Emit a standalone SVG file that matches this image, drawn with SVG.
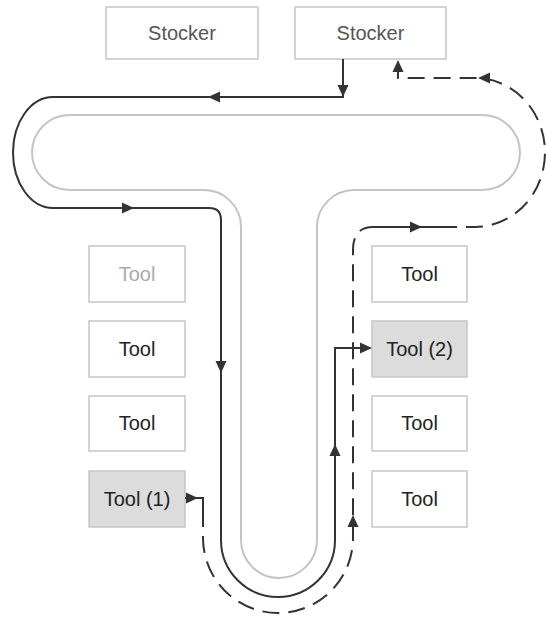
<svg xmlns="http://www.w3.org/2000/svg" xmlns:xlink="http://www.w3.org/1999/xlink" width="546" height="621" viewBox="0 0 546 621">
<style>
  .box { fill: #ffffff; stroke: #c6c6c6; stroke-width: 1.5; }
  .hl { fill: #dcdcdc; }
  .lbl { font-family: "Liberation Sans", Arial, sans-serif; font-size: 20px; text-anchor: middle; fill: #222; }
  .stk { fill: #555; }
  .faint { fill: #aaa; }
  .track { fill: none; stroke: #c4c4c4; stroke-width: 2; }
  .solid { fill: none; stroke: #333; stroke-width: 2; }
  .dash { fill: none; stroke: #333; stroke-width: 2; stroke-dasharray: 17 9; }
  .ah { fill: #333; }
</style>
<defs>
  <path id="ah" d="M0,0 L-12,-5.5 L-12,5.5 Z"/>
</defs>

<g id="track">
  <path class="track" d="M69.5,115 H482.5 A37.5,37.5 0 0 1 482.5,190 H354 A37,37 0 0 0 317,227 V540 A38,38 0 0 1 241,540 V227 A37,37 0 0 0 204,190 H69.5 A37.5,37.5 0 0 1 69.5,115 Z"/>
</g>

<g id="stocker1">
  <rect class="box" x="106" y="7" width="152" height="52"/>
  <text class="lbl stk" x="182" y="40">Stocker</text>
</g>
<g id="stocker2">
  <rect class="box" x="295" y="7" width="151" height="52"/>
  <text class="lbl stk" x="370.5" y="40">Stocker</text>
</g>

<g id="tool-l1">
  <rect class="box" x="89" y="246" width="96" height="56"/>
  <text class="lbl faint" x="137" y="281">Tool</text>
</g>
<g id="tool-l2">
  <rect class="box" x="89" y="321" width="96" height="56"/>
  <text class="lbl" x="137" y="356">Tool</text>
</g>
<g id="tool-l3">
  <rect class="box" x="89" y="396" width="96" height="55"/>
  <text class="lbl" x="137" y="430">Tool</text>
</g>
<g id="tool1">
  <rect class="box hl" x="89" y="471" width="96" height="56"/>
  <text class="lbl" x="137" y="506">Tool (1)</text>
</g>

<g id="tool-r1">
  <rect class="box" x="372" y="246" width="95" height="56"/>
  <text class="lbl" x="419.5" y="281">Tool</text>
</g>
<g id="tool2">
  <rect class="box hl" x="372" y="321" width="95" height="56"/>
  <text class="lbl" x="419.5" y="356">Tool (2)</text>
</g>
<g id="tool-r3">
  <rect class="box" x="372" y="396" width="95" height="55"/>
  <text class="lbl" x="419.5" y="430">Tool</text>
</g>
<g id="tool-r4">
  <rect class="box" x="372" y="471" width="95" height="56"/>
  <text class="lbl" x="419.5" y="506">Tool</text>
</g>

<g id="connectors">
  <!-- solid: Stocker -> Tool (2) -->
  <path class="solid" d="M343,59 V97 H53 A40,55.5 0 0 0 53,208 H209 Q221,208 221,220 V540 A57,57 0 0 0 335,540 V348 H370"/>
  <use xlink:href="#ah" class="ah" transform="translate(343,97) rotate(90)"/>
  <use xlink:href="#ah" class="ah" transform="translate(208,97) rotate(180)"/>
  <use xlink:href="#ah" class="ah" transform="translate(134,208)"/>
  <use xlink:href="#ah" class="ah" transform="translate(221,373) rotate(90)"/>
  <use xlink:href="#ah" class="ah" transform="translate(335,444) rotate(-90)"/>
  <use xlink:href="#ah" class="ah" transform="translate(372,348)"/>

  <!-- dashed: Tool (1) -> Stocker -->
  <path class="solid" d="M185,498 H203 V510"/>
  <path class="dash" d="M203,510 V538 A75,75 0 0 0 353,538 V250 Q353,227 373,227"/>
  <path class="solid" d="M373,227 H440"/>
  <path class="dash" d="M440,227 H475 A70,74.5 0 0 0 475,78 H398 V70"/>
  <use xlink:href="#ah" class="ah" transform="translate(198,498)"/>
  <use xlink:href="#ah" class="ah" transform="translate(353,515) rotate(-90)"/>
  <use xlink:href="#ah" class="ah" transform="translate(422,227)"/>
  <use xlink:href="#ah" class="ah" transform="translate(478,78) rotate(180)"/>
  <use xlink:href="#ah" class="ah" transform="translate(398,60) rotate(-90)"/>
</g>
</svg>
